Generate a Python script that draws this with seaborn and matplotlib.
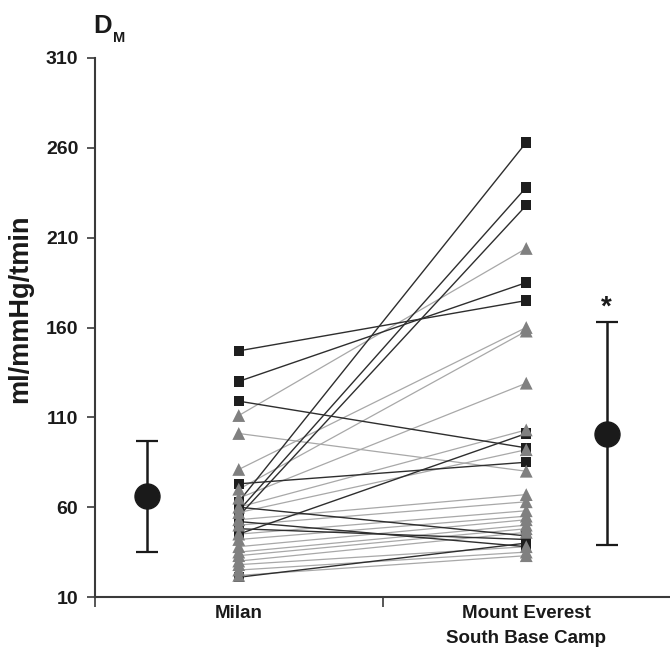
import matplotlib
matplotlib.use('Agg')
import matplotlib.pyplot as plt
import seaborn as sns
import pandas as pd

# subjects drawn with black squares
sq_milan = [147, 130, 119, 73, 63, 58, 55, 48, 45, 21, 60, 52]
sq_everest = [175, 185, 93, 85, 263, 238, 228, 42, 101, 40, 44, 38]

# subjects drawn with grey triangles
tri_milan = [111, 101, 81, 70, 65, 60, 57, 53, 50, 45, 42, 38, 35, 33, 30, 28, 25, 22]
tri_everest = [204, 80, 160, 158, 129, 103, 92, 67, 63, 58, 55, 53, 50, 48, 46, 38, 35, 33]

# group mean +/- SD
mean_vals = [66, 101]
sd_vals = [31, 62]

sites = ['Milan', 'Mount Everest\nSouth Base Camp']
yticks = [10, 60, 110, 160, 210, 260, 310]

site_x = [0.5, 1.5]
mean_x = [0.18, 1.78]


def long_table(milan, everest, tag):
    rows = []
    for i, (a, b) in enumerate(zip(milan, everest)):
        rows.append({'subject': f'{tag}{i}', 'x': site_x[0], 'value': a})
        rows.append({'subject': f'{tag}{i}', 'x': site_x[1], 'value': b})
    return pd.DataFrame(rows)


sq = long_table(sq_milan, sq_everest, 's')
tri = long_table(tri_milan, tri_everest, 't')

sns.set_style('ticks')
plt.rcParams['font.family'] = ['Liberation Sans', 'DejaVu Sans']

fig = plt.figure(figsize=(6.7, 6.49), dpi=100)
ax = fig.add_axes([95 / 670, 52 / 649, 575 / 670, 539 / 649])

sns.lineplot(data=sq, x='x', y='value', units='subject', estimator=None,
             color='#2e2e2e', lw=1.0, ax=ax, legend=False, zorder=2)
sns.lineplot(data=tri, x='x', y='value', units='subject', estimator=None,
             color='#a8a8a8', lw=0.9, ax=ax, legend=False, zorder=1)
sns.scatterplot(data=sq, x='x', y='value', marker='s', s=55, color='#1e1e1e',
                edgecolor='none', ax=ax, legend=False, zorder=3)
sns.scatterplot(data=tri, x='x', y='value', marker='^', s=85, color='#808080',
                edgecolor='none', ax=ax, legend=False, zorder=4)

ax.errorbar(mean_x, mean_vals, yerr=sd_vals, fmt='o', ms=18, color='#1a1a1a',
            ecolor='#1a1a1a', elinewidth=1.8, capsize=8, capthick=1.6, zorder=5)
ax.text(mean_x[1], mean_vals[1] + sd_vals[1] + 1, '*', ha='center', va='bottom',
        fontsize=20, fontweight='bold', color='#1a1a1a')

ax.set_xlim(0, 2)
ax.set_ylim(10, 310)
ax.set_yticks(yticks)
ax.set_xticks([0, 1])
ax.set_xticklabels([])
ax.set_xticks(site_x, minor=True)
ax.set_xticklabels(sites, minor=True, linespacing=1.6)
ax.tick_params(axis='x', which='minor', length=0, pad=6, labelsize=13.5)
ax.tick_params(axis='x', which='major', length=7, width=1.2, color='#3a3a3a')
ax.tick_params(axis='y', length=6, width=1.2, color='#3a3a3a', labelsize=14, pad=6)
for lbl in ax.get_yticklabels() + ax.get_xticklabels(minor=True):
    lbl.set_fontweight('bold')
    lbl.set_color('#1a1a1a')

ax.set_xlabel('')
ax.set_ylabel('ml/mmHg/tmin', fontsize=19.5, fontweight='bold', color='#1a1a1a')
ax.yaxis.set_label_coords(-0.108, 0.535)

sns.despine(ax=ax)
for side in ['left', 'bottom']:
    ax.spines[side].set_color('#3a3a3a')
    ax.spines[side].set_linewidth(1.5)

fig.text(93 / 670, 1 - 33 / 649, 'D', fontsize=18.5, fontweight='bold',
         va='baseline', color='#1a1a1a')
fig.text(113 / 670, 1 - 42 / 649, 'M', fontsize=10.5, fontweight='bold',
         va='baseline', color='#1a1a1a')

fig.savefig('out.png', dpi=100)
